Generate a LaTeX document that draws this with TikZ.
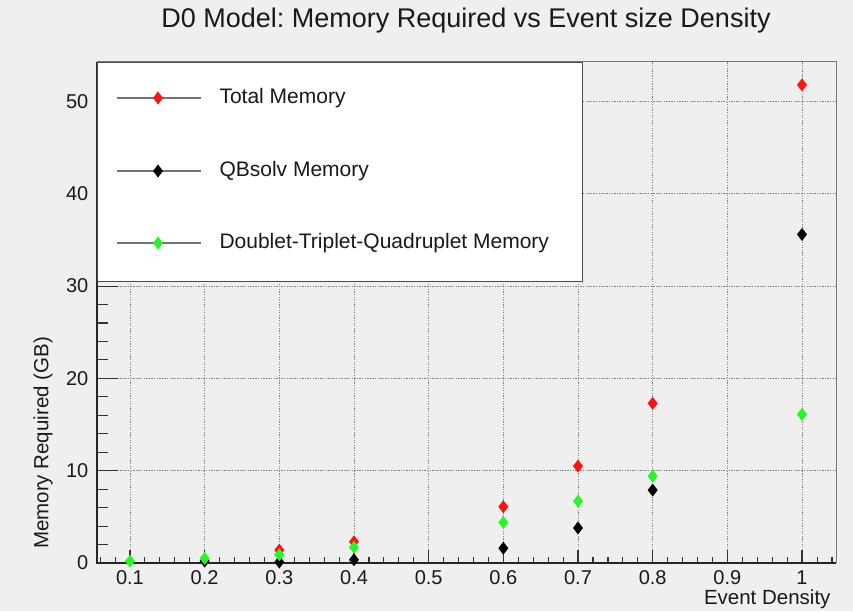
\documentclass[tikz,border=0pt]{standalone}
\usepackage{fontspec}
\setmainfont{Liberation Sans}
\usetikzlibrary{shapes.geometric}
\definecolor{bg}{RGB}{239,239,239}
\definecolor{txt}{RGB}{25,25,25}
\definecolor{gridc}{RGB}{130,130,130}
\definecolor{framec}{RGB}{120,120,120}
\definecolor{mred}{RGB}{250,20,20}
\definecolor{mgreen}{RGB}{40,245,40}
\frenchspacing
\begin{document}
\begin{tikzpicture}[x=1pt,y=1pt,
  every node/.style={text=txt},
  mk/.style={diamond, draw=none, fill=#1, minimum width=10pt, minimum height=13pt, inner sep=0pt, outer sep=0pt},
  gridline/.style={gridc, line width=0.9pt, dash pattern=on 1.3pt off 1.3pt},
  axisline/.style={black!85, line width=1.6pt},
  tickline/.style={black!80, line width=1.1pt},
  ticklab/.style={font=\fontsize{20}{22}\selectfont},
  axtitle/.style={font=\fontsize{20.5}{22}\selectfont},
  legtext/.style={font=\fontsize{21}{24}\selectfont, anchor=west},
  legline/.style={black!55, line width=1.2pt}]
% background
\fill[bg] (0,0) rectangle (853,611);
\useasboundingbox (0,0) rectangle (853,611);
% title
\node (title) [font=\fontsize{27}{30}\selectfont] at (466,590) {D0 Model: Memory Required vs Event size Density};
\begin{scope}[shift={(55.3,48)}, x=746.7pt, y=9.23pt]
  % grid
  \foreach \i in {1,...,10} {
    \draw[gridline] (\i/10,0) -- (\i/10,54.3);
  }
  \foreach \j in {1,...,5} {
    \draw[gridline] (0.0556,\j*10) -- (1.0456,\j*10);
  }
  % frame top/right
  \draw[framec, line width=1pt] (0.0556,54.3) -- (1.0456,54.3) -- (1.0456,0);
  % x ticks
  \foreach \i in {3,...,52} {
    \draw[tickline] (\i*0.02,0) -- ++(0,6pt);
  }
  \foreach \i in {1,...,10} {
    \draw[tickline] (\i/10,0) -- ++(0,13pt);
  }
  % y ticks
  \foreach \j in {1,...,27} {
    \draw[tickline] (0.0556,\j*2) -- ++(11pt,0);
  }
  \foreach \j in {0,...,5} {
    \draw[tickline] (0.0556,\j*10) -- ++(21pt,0);
  }
  % axes
  \draw[axisline] (0.0556,54.3) -- (0.0556,0) -- (1.0456,0);
  % tick labels
  \foreach \i/\t in {1/0.1,2/0.2,3/0.3,4/0.4,5/0.5,6/0.6,7/0.7,8/0.8,9/0.9,10/1} {
    \node (xl\i) [ticklab] at (\i/10,0) [yshift=-15pt] {\t};
  }
  \foreach \j in {0,1,2,3,4,5} {
    \node (yl\j) [ticklab, anchor=east] at (0.0556,\j*10) [xshift=-5pt] {\the\numexpr\j*10\relax};
  }
  % data: Total Memory (red)
  \foreach \x/\y [count=\k] in {0.3/1.4,0.4/2.3,0.6/6.1,0.7/10.5,0.8/17.3,1.0/51.8} {
    \node (r\k) [mk=mred] at (\x,\y) {};
  }
  % QBsolv (black)
  \foreach \x/\y [count=\k] in {0.2/0.2,0.3/0.1,0.4/0.35,0.6/1.6,0.7/3.8,0.8/7.9,1.0/35.6} {
    \node (b\k) [mk=black] at (\x,\y) {};
  }
  % Doublet-Triplet-Quadruplet (green)
  \foreach \x/\y [count=\k] in {0.1/0.2,0.2/0.5,0.3/0.9,0.4/1.7,0.6/4.4,0.7/6.7,0.8/9.4,1.0/16.1} {
    \node (g\k) [mk=mgreen] at (\x,\y) {};
  }
\end{scope}
% axis titles
\node (xtitle) [axtitle, anchor=east] at (834,12) {Event Density};
\node (ytitle) [axtitle, rotate=90] at (43,168) {Memory Required (GB)};
% legend
\node (legend) [draw=black!70, line width=1.2pt, fill=white, minimum width=485pt, minimum height=219pt, anchor=north west, inner sep=0pt] at (97,549) {};
\coordinate (la1) at (117,513); \coordinate (lb1) at (201,513);
\coordinate (la2) at (117,440); \coordinate (lb2) at (201,440);
\coordinate (la3) at (117,368); \coordinate (lb3) at (201,368);
\draw[legline] (la1) -- (lb1);
\draw[legline] (la2) -- (lb2);
\draw[legline] (la3) -- (lb3);
\node (lm1) [mk=mred] at (158,513) {};
\node (lm2) [mk=black] at (158,440) {};
\node (lm3) [mk=mgreen] at (158,368) {};
\node (lt1) [legtext] at (216,513) {Total Memory};
\node (lt2) [legtext] at (216,440) {QBsolv Memory};
\node (lt3) [legtext] at (216,368) {Doublet-Triplet-Quadruplet Memory};
\end{tikzpicture}
\end{document}
